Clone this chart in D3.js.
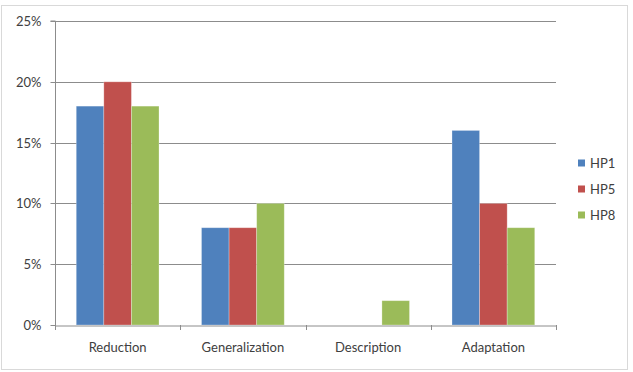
<!DOCTYPE html>
<html><head><meta charset="utf-8">
<script src="https://cdn.jsdelivr.net/npm/d3@7"></script>
<style>body{margin:0;background:#fff}svg{display:block}text{font-family:Lato,"Open Sans",sans-serif;fill:#404040}</style>
</head><body>
<svg id="c" width="633" height="372"></svg>
<script>
const categories = ["Reduction","Generalization","Description","Adaptation"];
const seriesNames = ["HP1","HP5","HP8"];
const hp1 = [0.18,0.08,0,0.16];
const hp5 = [0.20,0.08,0,0.10];
const hp8 = [0.18,0.10,0.02,0.08];
const yTicks = [0,0.05,0.10,0.15,0.20,0.25];
const colors = ["#4F81BD","#C0504D","#9BBB59"];
const values = [hp1,hp5,hp8];

const svg = d3.select("#c");
svg.append("rect").attr("x",1.5).attr("y",5.5).attr("width",626).attr("height",364)
  .attr("fill","#fff").attr("stroke","#d9d9d9").attr("stroke-width",1);

const L=55, R=556, T=21, B=325;
const x = d3.scaleBand().domain(categories).range([L,R]).paddingInner(0).paddingOuter(0);
const xs = d3.scaleBand().domain(seriesNames).range([0,x.bandwidth()]).paddingInner(0).paddingOuter(0.77);
const y = d3.scaleLinear().domain([0,0.25]).range([B,T]);

// gridlines
svg.append("g").selectAll("line").data(yTicks.slice(1)).join("line")
  .attr("x1",L).attr("x2",R).attr("y1",d=>Math.round(y(d))+0.5).attr("y2",d=>Math.round(y(d))+0.5)
  .attr("stroke","#8c8c8c").attr("stroke-width",1);

// y axis
const ya = svg.append("g").attr("transform",`translate(${L+0.5},0)`)
  .call(d3.axisLeft(y).tickValues(yTicks).tickFormat(d3.format(".0%")).tickSize(5).tickPadding(9));
ya.select(".domain").attr("stroke","#8c8c8c").attr("d",`M-5,${T}H0V${B}`);
ya.selectAll(".tick line").attr("stroke","#8c8c8c");
ya.selectAll(".tick").attr("transform",d=>`translate(0,${Math.round(y(d))+0.5})`);
ya.selectAll("text").attr("font-size","13px").style("font-family","Lato,'Open Sans',sans-serif").attr("fill","#404040");

// bars
const g = svg.append("g");
seriesNames.forEach((s,si)=>{
  g.selectAll(null).data(categories.map((c,ci)=>({c,v:values[si][ci]}))).join("rect")
    .attr("x",d=>x(d.c)+xs(s)).attr("width",xs.bandwidth())
    .attr("y",d=>y(d.v)).attr("height",d=>B-y(d.v))
    .attr("fill",colors[si]).attr("stroke",d=>d.v>0?"rgba(255,255,255,0.35)":"none").attr("stroke-width",0.8);
});

// x axis
const xa = svg.append("g").attr("transform",`translate(0,${B+0.5})`)
  .call(d3.axisBottom(x).tickSize(0).tickPadding(17));
xa.select(".domain").attr("stroke","#8c8c8c");
xa.selectAll("text").attr("font-size","13px").style("font-family","Lato,'Open Sans',sans-serif").attr("fill","#404040");
// category boundary ticks
svg.append("g").selectAll("line").data(d3.range(categories.length+1)).join("line")
  .attr("x1",i=>Math.round(L+i*x.step())+0.5).attr("x2",i=>Math.round(L+i*x.step())+0.5)
  .attr("y1",B).attr("y2",B+5).attr("stroke","#8c8c8c");

// legend
const lg = svg.append("g");
seriesNames.forEach((s,i)=>{
  const cy = 163 + i*26;
  lg.append("rect").attr("x",578).attr("y",cy-3.5).attr("width",7).attr("height",7).attr("fill",colors[i]);
  lg.append("text").attr("x",590).attr("y",cy).attr("dy","0.35em").attr("font-size","13px").text(s);
});
</script>
</body></html>
